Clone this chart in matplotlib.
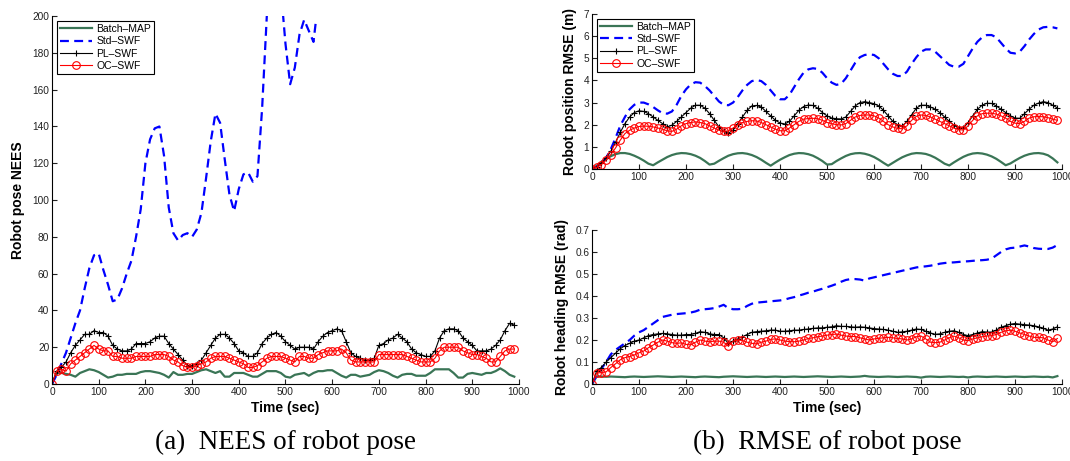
import numpy as np
import matplotlib
matplotlib.use("Agg")
import matplotlib.pyplot as plt

plt.rcParams['font.family'] = ['Liberation Sans', 'DejaVu Sans']

# time stamps (sec), one sample every 10 s
t = np.arange(0, 1000, 10)

# ---------------- NEES of robot pose ----------------
nees_batch = [0, 6, 6, 5.5, 5, 4, 6, 7, 8, 7.5,
              6.5, 5, 3.5, 4, 5, 5, 5.5, 5.5, 5.5, 6.5,
              7, 7, 6.5, 6, 5, 3.5, 6.5, 5, 5, 5.5,
              5.5, 6.5, 7.5, 8, 7, 6, 7, 4, 4, 6,
              6, 6, 5, 4, 4, 5.5, 7, 7, 7, 6,
              4, 3.5, 5, 5.5, 6, 4.5, 6, 7, 7, 7.5,
              7.5, 6, 4.5, 3.5, 5, 5, 4, 4.5, 5, 6.5,
              7.5, 7, 6, 4.5, 3.5, 5, 5.5, 5.5, 4.5, 4.5,
              4.5, 6, 8, 8, 8, 8, 6, 3.5, 3.5, 5.5,
              6, 5.5, 5, 6, 6, 7, 8.5, 7, 5, 4]

t_std_nees = [0, 10, 20, 30, 40, 50, 60, 70, 80, 90,
              100, 110, 120, 130, 140, 150, 160, 170, 180, 190,
              200, 210, 220, 230, 240, 250, 260, 270, 280, 290,
              300, 310, 320, 330, 340, 350, 360, 370, 380, 390,
              400, 410, 420, 430, 440, 450, 460, 470, 480, 490,
              500, 510, 520, 530, 540, 550, 560, 565]
nees_std = [0, 5, 11, 17, 25, 33, 40, 52, 63, 70,
            71, 62, 54, 45, 46, 52, 60, 67, 80, 95,
            120, 133, 139, 140, 124, 96, 82, 78, 81, 82,
            80, 84, 93, 112, 132, 147, 142, 122, 103, 94,
            106, 114, 115, 110, 113, 150, 200, 220, 225, 215,
            185, 163, 172, 190, 198, 192, 186, 197]

nees_pl = [0, 7, 9, 12, 17, 21, 24, 27, 27, 29,
           28, 28, 26, 21, 19, 18, 18, 19, 22, 22,
           22, 23, 25, 26, 26, 22, 19, 16, 13, 10,
           10, 11, 13, 17, 21, 25, 27, 27, 25, 22,
           18, 17, 15, 15, 17, 22, 25, 27, 28, 26,
           23, 21, 19, 20, 20, 20, 19, 23, 26, 28,
           29, 30, 29, 23, 17, 15, 14, 13, 13, 14,
           21, 22, 24, 25, 27, 25, 23, 19, 17, 16,
           15, 15, 18, 25, 29, 30, 30, 29, 25, 23,
           21, 18, 18, 18, 19, 21, 24, 29, 33, 32]

nees_oc = [0, 7, 8, 7, 11, 13, 15, 17, 19, 21,
           19, 18, 18, 15, 15, 14, 14, 14, 15, 15,
           15, 15, 16, 16, 16, 15, 13, 12, 10, 9,
           9, 10, 11, 12, 14, 15, 15, 15, 14, 13,
           12, 11, 9, 9, 10, 12, 14, 15, 15, 15,
           14, 13, 12, 15, 15, 14, 14, 16, 17, 18,
           18, 18, 19, 17, 13, 12, 12, 12, 12, 12,
           16, 16, 16, 16, 16, 16, 15, 14, 13, 12,
           12, 12, 14, 18, 20, 20, 20, 20, 18, 17,
           16, 16, 15, 14, 12, 12, 15, 18, 19, 19]

# ---------------- position RMSE (m) ----------------
pos_batch = [0, 0.15, 0.3, 0.45, 0.58, 0.67, 0.72, 0.72, 0.68, 0.6,
             0.5, 0.38, 0.24, 0.17, 0.3, 0.42, 0.54, 0.63, 0.69, 0.72,
             0.71, 0.67, 0.6, 0.5, 0.36, 0.2, 0.24, 0.37, 0.49, 0.6,
             0.67, 0.71, 0.72, 0.69, 0.63, 0.54, 0.42, 0.28, 0.15, 0.29,
             0.42, 0.53, 0.63, 0.69, 0.72, 0.71, 0.67, 0.6, 0.49, 0.36,
             0.2, 0.22, 0.36, 0.48, 0.59, 0.67, 0.71, 0.72, 0.69, 0.63,
             0.54, 0.42, 0.28, 0.15, 0.28, 0.41, 0.53, 0.62, 0.69, 0.72,
             0.71, 0.68, 0.61, 0.51, 0.38, 0.24, 0.16, 0.3, 0.43, 0.55,
             0.64, 0.7, 0.72, 0.7, 0.65, 0.57, 0.46, 0.32, 0.17, 0.25,
             0.38, 0.5, 0.6, 0.67, 0.71, 0.72, 0.69, 0.62, 0.48, 0.3]

pos_std = [0, 0.1, 0.25, 0.5, 0.9, 1.4, 1.95, 2.35, 2.7, 2.9,
           3.0, 3.0, 2.92, 2.8, 2.65, 2.52, 2.5, 2.6, 2.9, 3.3,
           3.6, 3.82, 3.92, 3.9, 3.75, 3.55, 3.3, 3.05, 2.9, 2.88,
           3.0, 3.25, 3.55, 3.8, 3.97, 4.02, 3.97, 3.8, 3.55, 3.3,
           3.15, 3.15, 3.35, 3.7, 4.05, 4.35, 4.5, 4.55, 4.52, 4.35,
           4.1, 3.9, 3.8, 3.85, 4.1, 4.45, 4.8, 5.05, 5.15, 5.18,
           5.15, 5.0, 4.75, 4.5, 4.3, 4.2, 4.2, 4.4, 4.75, 5.05,
           5.3, 5.4, 5.4, 5.3, 5.1, 4.9, 4.7, 4.62, 4.62, 4.75,
           5.1, 5.45, 5.75, 5.95, 6.05, 6.05, 5.95, 5.7, 5.45, 5.25,
           5.22, 5.3, 5.55, 5.85, 6.1, 6.3, 6.4, 6.42, 6.4, 6.35]

pos_pl = [0, 0.1, 0.25, 0.5, 0.8, 1.2, 1.65, 2.05, 2.35, 2.55,
          2.63, 2.6, 2.5, 2.35, 2.2, 2.05, 1.9, 1.98, 2.15, 2.35,
          2.55, 2.75, 2.88, 2.88, 2.75, 2.5, 2.2, 1.9, 1.7, 1.62,
          1.75, 2.05, 2.35, 2.65, 2.85, 2.87, 2.8, 2.6, 2.4, 2.2,
          2.08, 2.03, 2.15, 2.4, 2.65, 2.82, 2.89, 2.87, 2.75, 2.55,
          2.4, 2.3, 2.27, 2.26, 2.35, 2.6, 2.85, 3.0, 3.04, 3.0,
          2.95, 2.85, 2.65, 2.4, 2.15, 2.0, 1.94, 2.15, 2.45, 2.75,
          2.88, 2.88, 2.8, 2.7, 2.55, 2.35, 2.15, 1.97, 1.86, 1.85,
          2.1, 2.4, 2.7, 2.88, 2.97, 2.96, 2.85, 2.7, 2.55, 2.4,
          2.3, 2.29, 2.5, 2.7, 2.88, 2.98, 3.04, 3.0, 2.88, 2.76]

pos_oc = [0, 0.08, 0.2, 0.4, 0.65, 0.95, 1.3, 1.6, 1.75, 1.85,
          1.92, 1.94, 1.93, 1.9, 1.85, 1.8, 1.72, 1.7, 1.8, 1.95,
          2.05, 2.1, 2.13, 2.1, 2.05, 1.95, 1.85, 1.75, 1.7, 1.72,
          1.85, 2.0, 2.1, 2.15, 2.18, 2.17, 2.1, 2.0, 1.9, 1.8,
          1.73, 1.72, 1.85, 2.0, 2.15, 2.25, 2.28, 2.29, 2.27, 2.2,
          2.1, 2.05, 2.0, 1.99, 2.05, 2.2, 2.35, 2.42, 2.44, 2.44,
          2.4, 2.3, 2.15, 2.0, 1.9, 1.83, 1.82, 1.95, 2.2, 2.38,
          2.44, 2.42, 2.35, 2.25, 2.15, 2.05, 1.95, 1.85, 1.78, 1.76,
          1.95, 2.2, 2.4, 2.5, 2.52, 2.52, 2.48, 2.4, 2.3, 2.15,
          2.07, 2.05, 2.15, 2.3, 2.36, 2.37, 2.36, 2.32, 2.25, 2.2]

# ---------------- heading RMSE (rad) ----------------
head_batch = [0, 0.035, 0.034, 0.033, 0.034, 0.033, 0.032, 0.031, 0.033, 0.034,
              0.033, 0.032, 0.033, 0.034, 0.035, 0.034, 0.033, 0.032, 0.033, 0.034,
              0.033, 0.032, 0.031, 0.033, 0.034, 0.033, 0.032, 0.031, 0.033, 0.034,
              0.035, 0.034, 0.033, 0.032, 0.033, 0.034, 0.033, 0.032, 0.033, 0.034,
              0.033, 0.032, 0.033, 0.034, 0.033, 0.032, 0.033, 0.034, 0.035, 0.034,
              0.033, 0.032, 0.033, 0.034, 0.033, 0.032, 0.033, 0.034, 0.037, 0.034,
              0.033, 0.032, 0.033, 0.034, 0.033, 0.032, 0.033, 0.034, 0.033, 0.032,
              0.029, 0.033, 0.034, 0.033, 0.032, 0.033, 0.034, 0.033, 0.032, 0.033,
              0.030, 0.033, 0.034, 0.033, 0.032, 0.033, 0.034, 0.033, 0.032, 0.033,
              0.034, 0.033, 0.032, 0.033, 0.034, 0.033, 0.032, 0.033, 0.030, 0.036]

head_std = [0, 0.04, 0.07, 0.1, 0.135, 0.155, 0.17, 0.185, 0.2, 0.22,
            0.235, 0.245, 0.26, 0.275, 0.29, 0.305, 0.31, 0.315, 0.318, 0.32,
            0.322, 0.325, 0.33, 0.338, 0.34, 0.342, 0.345, 0.352, 0.36, 0.345,
            0.34, 0.34, 0.342, 0.355, 0.365, 0.37, 0.372, 0.374, 0.376, 0.378,
            0.38, 0.384, 0.39, 0.395, 0.402, 0.408, 0.415, 0.42, 0.427, 0.433,
            0.44, 0.447, 0.455, 0.465, 0.473, 0.477, 0.477, 0.475, 0.47, 0.48,
            0.485, 0.49, 0.495, 0.5, 0.505, 0.51, 0.515, 0.52, 0.525, 0.53,
            0.533, 0.535, 0.538, 0.542, 0.547, 0.55, 0.552, 0.553, 0.555, 0.557,
            0.558, 0.56, 0.562, 0.563, 0.565, 0.57, 0.585, 0.6, 0.612, 0.618,
            0.62, 0.625, 0.63, 0.625, 0.618, 0.615, 0.614, 0.614, 0.62, 0.632]

head_pl = [0, 0.06, 0.075, 0.1, 0.12, 0.14, 0.16, 0.175, 0.185, 0.195,
           0.2, 0.21, 0.22, 0.225, 0.228, 0.23, 0.228, 0.225, 0.222, 0.222,
           0.225, 0.225, 0.23, 0.238, 0.235, 0.228, 0.225, 0.225, 0.21, 0.185,
           0.195, 0.205, 0.215, 0.225, 0.235, 0.238, 0.24, 0.242, 0.245, 0.245,
           0.24, 0.24, 0.242, 0.245, 0.245, 0.248, 0.25, 0.253, 0.255, 0.255,
           0.258, 0.26, 0.265, 0.262, 0.262, 0.26, 0.258, 0.26, 0.258, 0.255,
           0.252, 0.25, 0.248, 0.245, 0.24, 0.235, 0.237, 0.24, 0.245, 0.25,
           0.248, 0.24, 0.232, 0.226, 0.228, 0.235, 0.24, 0.242, 0.235, 0.225,
           0.22, 0.225, 0.232, 0.238, 0.236, 0.236, 0.245, 0.258, 0.265, 0.272,
           0.275, 0.272, 0.27, 0.268, 0.265, 0.26, 0.253, 0.245, 0.25, 0.26]

head_oc = [0, 0.05, 0.052, 0.055, 0.075, 0.092, 0.11, 0.12, 0.125, 0.132,
           0.142, 0.15, 0.165, 0.177, 0.19, 0.2, 0.195, 0.188, 0.185, 0.187,
           0.18, 0.178, 0.19, 0.2, 0.195, 0.192, 0.195, 0.195, 0.19, 0.172,
           0.195, 0.2, 0.198, 0.19, 0.185, 0.182, 0.19, 0.195, 0.203, 0.205,
           0.2, 0.195, 0.193, 0.192, 0.195, 0.2, 0.207, 0.21, 0.215, 0.218,
           0.222, 0.225, 0.227, 0.222, 0.218, 0.216, 0.216, 0.21, 0.205, 0.2,
           0.205, 0.208, 0.21, 0.212, 0.21, 0.207, 0.205, 0.2, 0.205, 0.215,
           0.218, 0.205, 0.19, 0.188, 0.19, 0.2, 0.21, 0.218, 0.21, 0.2,
           0.197, 0.205, 0.21, 0.215, 0.218, 0.22, 0.225, 0.235, 0.242, 0.245,
           0.24, 0.232, 0.225, 0.218, 0.212, 0.212, 0.21, 0.2, 0.192, 0.207]

labels = ['Batch\u2013MAP', 'Std\u2013SWF', 'PL\u2013SWF', 'OC\u2013SWF']
GREEN = '#3a7556'
BLUE = '#0000ff'
RED = '#ff0000'

fig = plt.figure(figsize=(10.7, 4.61), dpi=100)
ax_a = fig.add_axes([0.0486, 0.167, 0.4364, 0.798])
ax_p = fig.add_axes([0.5533, 0.6334, 0.4393, 0.3362])
ax_h = fig.add_axes([0.5533, 0.167, 0.4393, 0.334])


def draw(ax, tb, b, ts, s, p, o):
    ax.plot(tb, b, color=GREEN, lw=1.6, label=labels[0])
    ax.plot(ts, s, color=BLUE, lw=1.6, ls=(0, (4, 2.4)), label=labels[1])
    ax.plot(t, p, color='black', lw=0.8, marker='+', ms=5, mew=0.8, label=labels[2])
    ax.plot(t, o, color=RED, lw=0.8, marker='o', ms=5.5, mew=0.8,
            mfc='none', label=labels[3])


def style(ax, yticks, yticklabels):
    for side in ('top', 'right'):
        ax.spines[side].set_visible(False)
    for side in ('left', 'bottom'):
        ax.spines[side].set_linewidth(0.8)
    ax.set_xlim(0, 1000)
    ax.set_xticks(range(0, 1001, 100))
    ax.set_yticks(yticks)
    ax.set_yticklabels(yticklabels)
    ax.set_ylim(yticks[0], yticks[-1])
    ax.tick_params(direction='in', length=3.5, width=0.8, labelsize=7.3,
                   colors='#222222', pad=2)


draw(ax_a, t, nees_batch, t_std_nees, nees_std, nees_pl, nees_oc)
style(ax_a, list(range(0, 201, 20)), [str(v) for v in range(0, 201, 20)])
ax_a.set_ylabel('Robot pose NEES', fontsize=10, fontweight='bold')
ax_a.yaxis.set_label_coords(-0.058, 0.5)
ax_a.set_xlabel('Time (sec)', fontsize=10, fontweight='bold')
ax_a.xaxis.set_label_coords(0.5, -0.047)

draw(ax_p, t, pos_batch, t, pos_std, pos_pl, pos_oc)
style(ax_p, list(range(0, 8)), [str(v) for v in range(0, 8)])
ax_p.set_ylabel('Robot position RMSE (m)', fontsize=10, fontweight='bold')
ax_p.yaxis.set_label_coords(-0.032, 0.5)

draw(ax_h, t, head_batch, t, head_std, head_pl, head_oc)
style(ax_h, [0, 0.1, 0.2, 0.3, 0.4, 0.5, 0.6, 0.7],
      ['0', '0.1', '0.2', '0.3', '0.4', '0.5', '0.6', '0.7'])
ax_h.set_ylabel('Robot heading RMSE (rad)', fontsize=10, fontweight='bold')
ax_h.yaxis.set_label_coords(-0.049, 0.5)
ax_h.set_xlabel('Time (sec)', fontsize=10, fontweight='bold')
ax_h.xaxis.set_label_coords(0.5, -0.112)

for ax in (ax_a, ax_p):
    leg = ax.legend(loc='upper left', fontsize=7.5, handlelength=3.1,
                    handletextpad=0.4, labelspacing=0.22, borderpad=0.3,
                    borderaxespad=0.45, fancybox=False, framealpha=1,
                    edgecolor='black')
    leg.get_frame().set_linewidth(0.8)

fig.text(0.2669, 0.041, '(a)  NEES of robot pose', ha='center', va='center',
         fontsize=19.5, family='Liberation Serif')
fig.text(0.773, 0.041, '(b)  RMSE of robot pose', ha='center', va='center',
         fontsize=19.5, family='Liberation Serif')

fig.savefig('out.png', dpi=100)
